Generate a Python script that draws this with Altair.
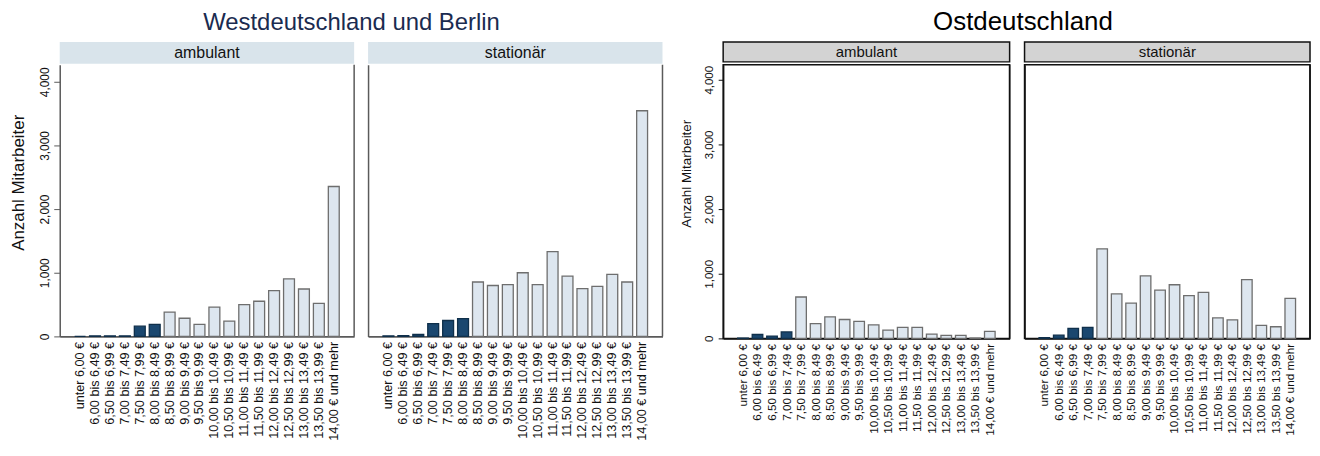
import altair as alt
import pandas as pd

categories = [
    "unter 6,00 €", "6,00 bis 6,49 €", "6,50 bis 6,99 €", "7,00 bis 7,49 €",
    "7,50 bis 7,99 €", "8,00 bis 8,49 €", "8,50 bis 8,99 €", "9,00 bis 9,49 €",
    "9,50 bis 9,99 €", "10,00 bis 10,49 €", "10,50 bis 10,99 €", "11,00 bis 11,49 €",
    "11,50 bis 11,99 €", "12,00 bis 12,49 €", "12,50 bis 12,99 €", "13,00 bis 13,49 €",
    "13,50 bis 13,99 €", "14,00 € und mehr",
]

west_ambulant = [0, 8, 8, 8, 160, 190, 380, 285, 190, 460, 240, 500, 552, 720, 905, 745, 520, 2355]
west_stationaer = [8, 10, 30, 200, 250, 280, 855, 800, 812, 1000, 812, 1333, 948, 750, 786, 975, 855, 3545]
east_ambulant = [5, 60, 35, 100, 640, 230, 333, 292, 262, 210, 128, 169, 169, 65, 46, 46, 5, 108]
east_stationaer = [10, 50, 155, 170, 1385, 687, 545, 968, 745, 830, 662, 713, 318, 287, 908, 200, 180, 620]

# first category at or above the regional minimum wage
west_min_wage_cat = "8,50 bis 8,99 €"
east_min_wage_cat = "7,50 bis 7,99 €"

y_ticks = [0, 1000, 2000, 3000, 4000]
FONT = "Liberation Sans"
DARK = "#1a476f"
LIGHT = "#dde6ef"


def make_df(values, cutoff):
    idx = categories.index(cutoff)
    return pd.DataFrame({
        "Kategorie": categories,
        "Anzahl": values,
        "dunkel": [i < idx for i in range(len(categories))],
    })


def panel(values, cutoff, label, first, west, w, h, ymax):
    df = make_df(values, cutoff)
    frame_col = "#5a5a5a" if west else "#111111"
    lab_size = 12.7 if west else 11.8
    if first:
        yaxis = alt.Axis(
            values=y_ticks, format=",.0f", labelAngle=270, grid=False,
            labelFontSize=12 if west else 11.5, labelColor="#111",
            tickSize=6 if west else 5, tickColor=frame_col,
            labelPadding=2 if west else 4,
            domainColor=frame_col, domainWidth=1.5,
            title="Anzahl Mitarbeiter", titleFontSize=17 if west else 13.5,
            titleFontWeight="normal", titleColor="#111",
            titlePadding=11 if west else 10,
            titleY=118 if west else 109,
        )
    else:
        yaxis = alt.Axis(
            values=y_ticks, labels=False, ticks=False, grid=False, title=None,
            domainColor=frame_col, domainWidth=1.5,
        )
    bars = alt.Chart(df).mark_bar(strokeWidth=1.3).encode(
        x=alt.X(
            "Kategorie:N", sort=categories,
            scale=alt.Scale(paddingInner=0.27, paddingOuter=1),
            axis=alt.Axis(
                title=None, labelAngle=270, labelFontSize=lab_size, labelColor="#111",
                ticks=False, labelPadding=5, labelOverlap=False, labelLimit=300,
                domainColor=frame_col, domainWidth=1.8,
            ),
        ),
        y=alt.Y(
            "Anzahl:Q",
            scale=alt.Scale(domain=[0, ymax], nice=False, zero=True),
            axis=yaxis,
        ),
        color=alt.condition(alt.datum.dunkel, alt.value(DARK), alt.value(LIGHT)),
        stroke=alt.condition(alt.datum.dunkel, alt.value("#0f2f4a"), alt.value("#6e6e6e")),
    )
    border = alt.Chart(pd.DataFrame({"k": [0]})).mark_rule(
        color=frame_col, strokeWidth=1.5
    ).encode(x=alt.value(w), y=alt.value(0), y2=alt.value(h))
    plot = alt.layer(bars, border).properties(
        width=w, height=h,
        view=alt.ViewBackground(stroke=None) if west else alt.ViewBackground(stroke="#111", strokeWidth=1.5),
    )
    hh = 22 if west else 20
    header = alt.Chart(pd.DataFrame({"t": [label]})).mark_text(
        font=FONT, fontSize=16 if west else 15, color="#111", baseline="middle", align="center"
    ).encode(text="t:N", x=alt.value(w / 2), y=alt.value(hh / 2)).properties(
        width=w, height=hh,
        view=alt.ViewBackground(fill="#d9e4eb", stroke=None) if west
        else alt.ViewBackground(fill="#d3d3d3", stroke="#111", strokeWidth=1.5),
    )
    return alt.vconcat(header, plot, spacing=0)


west = alt.hconcat(
    panel(west_ambulant, west_min_wage_cat, "ambulant", True, True, 296, 273, 4266),
    panel(west_stationaer, west_min_wage_cat, "stationär", False, True, 296, 273, 4266),
    spacing=13,
).properties(title=alt.TitleParams(
    "Westdeutschland und Berlin", font=FONT, fontSize=24, fontWeight="normal",
    color="#1a2b50", anchor="middle", baseline="alphabetic", offset=-12, dx=15,
))

east = alt.hconcat(
    panel(east_ambulant, east_min_wage_cat, "ambulant", True, False, 288, 275, 4231),
    panel(east_stationaer, east_min_wage_cat, "stationär", False, False, 287, 275, 4231),
    spacing=12,
).properties(title=alt.TitleParams(
    "Ostdeutschland", font=FONT, fontSize=26, fontWeight="normal",
    color="#000", anchor="middle", baseline="alphabetic", offset=-15, dx=28,
))

chart = alt.hconcat(west, east, spacing=15).properties(
    padding={"left": 2, "top": 0, "right": 0, "bottom": 0},
    background="white",
).configure_axis(
    labelFont=FONT, titleFont=FONT,
).configure_title(font=FONT)

chart.save("out.html", embed_options={"renderer": "svg", "actions": False})
